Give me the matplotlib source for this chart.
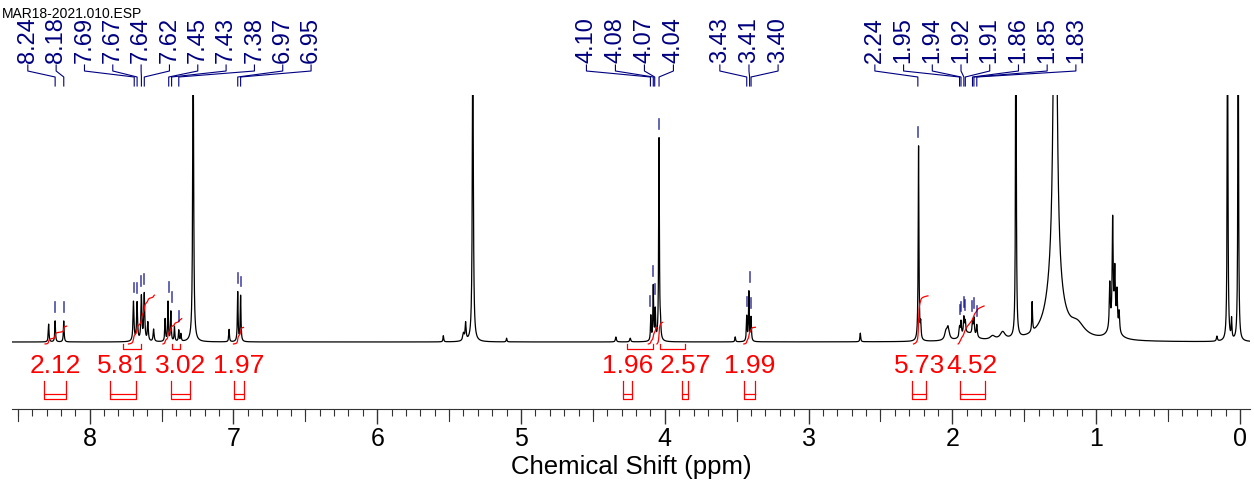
import matplotlib
matplotlib.use("Agg")
import matplotlib.pyplot as plt
import matplotlib.transforms as mtransforms
import numpy as np

plt.rcParams["font.family"] = ["Liberation Sans", "DejaVu Sans"]

TITLE = "MAR18-2021.010.ESP"

# peak list: centre (ppm), height (1 = full scale), half width (ppm)
peak_ppm = [8.285, 8.24, 8.18,
            7.695, 7.67, 7.64, 7.62, 7.595, 7.555,
            7.475, 7.455, 7.435, 7.41, 7.38, 7.365,
            7.28, 7.03, 6.97, 6.95,
            5.54, 5.40, 5.385, 5.335, 5.10,
            4.34, 4.24, 4.097, 4.08, 4.066, 4.04, 4.03,
            3.51, 3.43, 3.415, 3.40, 2.64,
            2.235, 2.22, 2.045, 2.03,
            1.95, 1.94, 1.92, 1.91, 1.89, 1.86, 1.85, 1.83,
            1.72, 1.65, 1.558, 1.445,
            1.285, 1.29, 1.13,
            0.905, 0.885, 0.87, 0.855, 0.84, 0.88,
            0.16, 0.086, 0.058, 0.012]
peak_height = [0.072, 0.085, 0.085,
               0.16, 0.155, 0.18, 0.19, 0.075, 0.05,
               0.09, 0.16, 0.12, 0.06, 0.045, 0.03,
               1.2, 0.05, 0.2, 0.185,
               0.025, 0.03, 0.07, 1.3, 0.015,
               0.02, 0.015, 0.10, 0.22, 0.12, 0.82, 0.05,
               0.02, 0.10, 0.20, 0.095, 0.035,
               0.79, 0.06, 0.03, 0.05,
               0.04, 0.06, 0.07, 0.05, 0.03, 0.05, 0.07, 0.05,
               0.015, 0.03, 1.5, 0.12,
               2.0, 0.22, 0.05,
               0.18, 0.43, 0.22, 0.15, 0.08, 0.05,
               0.02, 1.4, 0.08, 1.4]
peak_width = [0.003, 0.003, 0.003,
              0.004, 0.004, 0.004, 0.004, 0.004, 0.004,
              0.003, 0.003, 0.003, 0.003, 0.003, 0.003,
              0.004, 0.003, 0.003, 0.003,
              0.003, 0.006, 0.004, 0.004, 0.003,
              0.004, 0.004, 0.003, 0.003, 0.003, 0.003, 0.003,
              0.003, 0.003, 0.003, 0.003, 0.003,
              0.003, 0.003, 0.01, 0.01,
              0.004, 0.004, 0.004, 0.004, 0.05, 0.004, 0.004, 0.004,
              0.02, 0.02, 0.003, 0.003,
              0.012, 0.06, 0.06,
              0.004, 0.004, 0.004, 0.004, 0.004, 0.04,
              0.004, 0.003, 0.003, 0.003]

# peak labels printed above the spectrum
label_ppm = [8.24, 8.18, 7.69, 7.67, 7.64, 7.62, 7.45, 7.43, 7.38, 6.97, 6.95,
             4.10, 4.08, 4.07, 4.04, 3.43, 3.41, 3.40,
             2.24, 1.95, 1.94, 1.92, 1.91, 1.86, 1.85, 1.83]

# integrals: region (ppm) and value
int_from = [8.31, 7.73, 7.49, 7.00, 4.115, 4.055, 3.45, 2.27, 1.96]
int_to = [8.16, 7.55, 7.36, 6.93, 4.055, 4.015, 3.37, 2.17, 1.78]
int_value = [2.12, 5.81, 3.02, 1.97, 1.96, 2.57, 1.99, 5.73, 4.52]

# ---- layout (where the labels sit, not data) ----
label_slot_ppm = np.concatenate([
    np.linspace(8.43, 6.46, 11),
    np.linspace(4.545, 3.94, 4),
    np.linspace(3.617, 3.212, 3),
    np.linspace(2.539, 1.141, 8),
])
int_label_ppm = [8.24, 7.77, 7.37, 6.96, 4.26, 3.86, 3.41, 2.23, 1.86]

W, H = 1254, 485
fig = plt.figure(figsize=(W / 100, H / 100), dpi=100)
ax_bottom_px, ax_top_px, base_px = 410, 96, 343
ax = fig.add_axes([12 / W, (H - ax_bottom_px) / H, 1238 / W, (ax_bottom_px - ax_top_px) / H])
unit_px = base_px - ax_top_px
ax.set_xlim(8.54, -0.07)
ax.set_ylim(-(ax_bottom_px - base_px) / unit_px, 1.0)

x = np.linspace(-0.1, 8.6, 40000)
y = np.zeros_like(x)
for c, h, w in zip(peak_ppm, peak_height, peak_width):
    y += h / (1 + ((x - c) / w) ** 2)
ax.plot(x, y, color="black", lw=0.9)

# integrals
red = "#ff0000"
per_unit = 8.4 / unit_px
for lo, hi, v, lx in zip(int_from, int_to, int_value, int_label_ppm):
    m = (x <= lo) & (x >= hi)
    xs = x[m][::-1]
    cs = np.cumsum(y[m][::-1])
    ax.plot(xs, cs / cs[-1] * v * per_unit - 0.008, color=red, lw=0.9)
    ax.text(lx, -(366 - base_px) / unit_px, f"{v:.2f}", color=red, fontsize=19,
            ha="center", va="center")
    half = (lo - hi) / 2
    yt, yb, ym = -(382 - base_px) / unit_px, -(400 - base_px) / unit_px, -(395 - base_px) / unit_px
    ax.plot([lx + half, lx + half, lx - half, lx - half], [yt, yb, yb, yt], color=red, lw=0.9)
    ax.plot([lx + half, lx - half], [ym, ym], color=red, lw=0.9)
    mid = (lo + hi) / 2
    if abs(mid - lx) > 0.02:
        yl = -(350 - base_px) / unit_px
        yh = -(345 - base_px) / unit_px
        ax.plot([mid, mid, lx, lx], [yh, yl, yl, yh], color=red, lw=0.9)

# peak labels with leaders
navy = "#000080"
blend = mtransforms.blended_transform_factory(ax.transData, fig.transFigure)
fy = lambda p: (H - p) / H
for p, s in zip(label_ppm, label_slot_ppm):
    ax.text(s, fy(63), f"{p:.2f}", transform=blend, rotation=90, ha="center",
            va="bottom", color=navy, fontsize=17, clip_on=False)
    ax.plot([s, s, p, p], [fy(66), fy(72), fy(78), fy(87)], transform=blend,
            color=navy, lw=0.8, clip_on=False)
    near = (x > p - 0.008) & (x < p + 0.008)
    top = y[near].max()
    ax.plot([p, p], [top + 0.035, top + 0.075], color=navy, lw=1.2, alpha=0.7)

fig.text(2 / W, fy(14), TITLE, fontsize=10, color="black", va="center", ha="left", zorder=10)

# axis styling
for side in ["top", "left", "right"]:
    ax.spines[side].set_visible(False)
ax.spines["bottom"].set_color("#333333")
ax.set_yticks([])
ax.set_xticks(range(0, 9))
ax.set_xticks(np.arange(0, 8.6, 0.1), minor=True)
ax.tick_params(axis="x", which="major", length=11, width=1, color="#333333",
               labelsize=18, pad=1)
ax.tick_params(axis="x", which="minor", length=5, width=0.8, color="#333333")
bx = mtransforms.blended_transform_factory(ax.transData, ax.transAxes)
half_len = 12 / (ax_bottom_px - ax_top_px)
for p in np.arange(0.5, 8.6, 1.0):
    ax.plot([p, p], [0, -half_len], transform=bx, color="#333333", lw=0.8, clip_on=False)
ax.set_xlabel("Chemical Shift (ppm)", fontsize=18.5, labelpad=3)

fig.savefig("out.png", dpi=100)
